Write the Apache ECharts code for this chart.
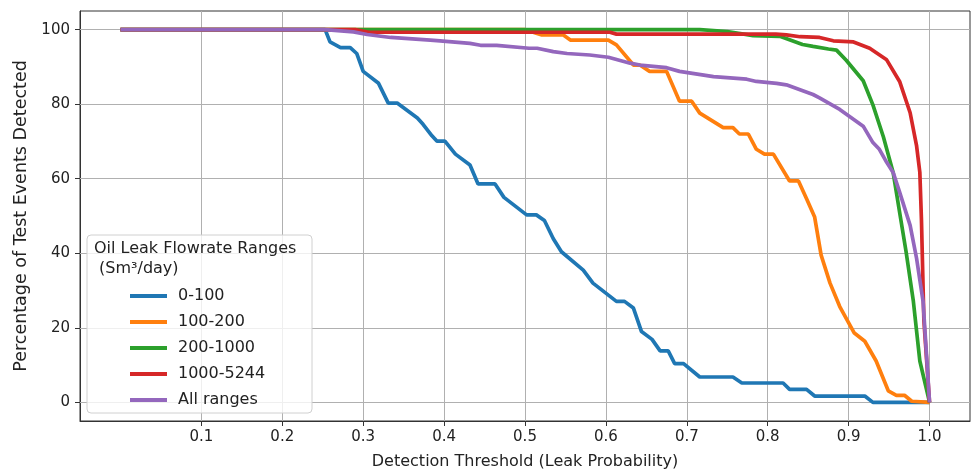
<!DOCTYPE html>
<html>
<head>
<meta charset="utf-8">
<script src="https://cdn.jsdelivr.net/npm/echarts@6/dist/echarts.min.js"></script>
<style>
html,body{margin:0;padding:0;background:#fff;}
#chart{width:972px;height:475px;}
</style>
</head>
<body>
<div id="chart"></div>
<script>
const xTicks = [0.1, 0.2, 0.3, 0.4, 0.5, 0.6, 0.7, 0.8, 0.9, 1.0];
const yTicks = [0, 20, 40, 60, 80, 100];
const seriesNames = ['0-100', '100-200', '200-1000', '1000-5244', 'All ranges'];
const seriesColors = ['#1f77b4', '#ff7f0e', '#2ca02c', '#d62728', '#9467bd'];

const range0_100 = [[0,100],[0.253,100],[0.259,96.7],[0.272,95.2],[0.284,95.2],[0.292,93.6],[0.300,88.8],[0.319,85.6],[0.331,80.3],[0.342,80.3],[0.367,76.3],[0.374,74.6],[0.385,71.5],[0.391,70.1],[0.401,70.1],[0.414,66.6],[0.432,63.7],[0.442,58.6],[0.463,58.6],[0.474,55.0],[0.502,50.3],[0.514,50.3],[0.524,48.8],[0.535,43.9],[0.545,40.4],[0.572,35.5],[0.584,32.0],[0.613,27.1],[0.623,27.1],[0.634,25.3],[0.644,19.0],[0.657,16.9],[0.667,13.8],[0.677,13.8],[0.685,10.4],[0.696,10.4],[0.716,6.8],[0.757,6.8],[0.768,5.2],[0.819,5.2],[0.827,3.5],[0.848,3.5],[0.858,1.7],[0.920,1.7],[0.930,0],[1.0,0]];
const range100_200 = [[0,100],[0.50,100],[0.52,98.6],[0.547,98.6],[0.556,97.2],[0.603,97.2],[0.613,95.9],[0.634,90.5],[0.642,90.5],[0.654,88.8],[0.675,88.8],[0.691,80.8],[0.706,80.8],[0.716,77.6],[0.745,73.7],[0.757,73.7],[0.765,72.0],[0.776,72.0],[0.786,67.9],[0.796,66.6],[0.807,66.6],[0.827,59.4],[0.838,59.4],[0.848,54.6],[0.858,49.7],[0.866,39.5],[0.877,32.0],[0.889,25.7],[0.907,18.6],[0.920,16.4],[0.934,11.1],[0.949,3.1],[0.959,1.9],[0.969,1.9],[0.978,0.3],[1.0,0]];
const range200_1000 = [[0,100],[0.716,100],[0.75,99.5],[0.782,98.4],[0.815,98.2],[0.843,96.0],[0.856,95.5],[0.875,94.8],[0.885,94.5],[0.897,91.8],[0.918,86.3],[0.930,79.8],[0.943,71.2],[0.955,61.7],[0.963,51.0],[0.971,40.4],[0.980,27.1],[0.988,11.1],[1.0,0]];
const range1000_5244 = [[0,100],[0.29,100],[0.307,99.3],[0.605,99.3],[0.613,98.8],[0.81,98.8],[0.823,98.6],[0.84,98.1],[0.864,97.9],[0.881,97.0],[0.906,96.7],[0.926,95.0],[0.947,91.9],[0.963,86.1],[0.976,77.7],[0.984,68.8],[0.988,61.7],[0.990,49.0],[0.993,22.0],[1.0,0]];
const rangeAll = [[0,100],[0.253,100],[0.288,99.4],[0.305,98.7],[0.334,97.9],[0.383,97.2],[0.395,97.0],[0.432,96.3],[0.445,95.8],[0.465,95.8],[0.505,95.0],[0.515,95.0],[0.535,94.1],[0.552,93.6],[0.580,93.2],[0.603,92.6],[0.630,91.0],[0.642,90.5],[0.675,89.8],[0.691,88.8],[0.733,87.4],[0.774,86.7],[0.786,86.1],[0.811,85.6],[0.823,85.2],[0.856,82.6],[0.864,81.7],[0.889,78.6],[0.918,74.1],[0.930,69.7],[0.938,67.9],[0.947,64.4],[0.955,61.7],[0.963,56.4],[0.976,47.5],[0.984,38.6],[0.992,27.1],[1.0,0]];
const allData = [range0_100, range100_200, range200_1000, range1000_5244, rangeAll];

const FONT = 'DejaVu Sans';
const LINE_ICON = 'path://M0,0 L37,0 L37,4 L0,4 Z';
const chart = echarts.init(document.getElementById('chart'), null, {renderer: 'canvas'});

const gridSeries = {
  name: '__grid', type: 'line', data: [], silent: true, z: 1,
  markLine: {
    silent: true, symbol: ['none', 'none'], animation: false, z: 1,
    label: {show: false},
    lineStyle: {color: '#b0b0b0', width: 1, type: 'solid'},
    emphasis: {disabled: true},
    data: xTicks.map(v => ({xAxis: v})).concat(yTicks.map(v => ({yAxis: v})))
  }
};

chart.setOption({
  animation: false,
  backgroundColor: '#fff',
  textStyle: {fontFamily: FONT},
  grid: {left: 80, right: 2, top: 11, bottom: 51, show: true, borderColor: '#333', borderWidth: 1, backgroundColor: 'transparent'},
  xAxis: {
    type: 'value', min: -0.05, max: 1.05,
    name: 'Detection Threshold (Leak Probability)', nameLocation: 'middle', nameGap: 33,
    nameTextStyle: {fontSize: 16, color: '#222', fontFamily: FONT},
    axisLine: {show: true, onZero: false, lineStyle: {color: '#333', width: 1}},
    axisTick: {show: true, length: 5, lineStyle: {color: '#333'}, customValues: xTicks},
    axisLabel: {customValues: xTicks, fontSize: 15, color: '#222', margin: 9, fontFamily: FONT, formatter: v => v.toFixed(1)},
    splitLine: {show: false}
  },
  yAxis: {
    type: 'value', min: -5, max: 105,
    name: 'Percentage of Test Events Detected', nameLocation: 'middle', nameGap: 47,
    nameTextStyle: {fontSize: 17.5, color: '#222', fontFamily: FONT},
    axisLine: {show: true, onZero: false, lineStyle: {color: '#333', width: 1}},
    axisTick: {show: true, length: 5, lineStyle: {color: '#333'}, customValues: yTicks},
    axisLabel: {customValues: yTicks, fontSize: 15, color: '#222', margin: 10, fontFamily: FONT},
    splitLine: {show: false}
  },
  legend: {
    orient: 'vertical', left: 125, top: 283, z: 6,
    itemWidth: 37, itemHeight: 18, itemGap: 10,
    textStyle: {fontSize: 16, color: '#222', fontFamily: FONT, padding: [0, 0, 0, 6]},
    data: seriesNames.map(n => ({name: n, icon: LINE_ICON}))
  },
  graphic: [
    {type: 'rect', z: 5, shape: {x: 87, y: 235, width: 225, height: 178, r: 4},
     style: {fill: 'rgba(255,255,255,0.8)', stroke: '#d0d0d0', lineWidth: 1}},
    {type: 'text', z: 7, left: 94, top: 241,
     style: {text: 'Oil Leak Flowrate Ranges', font: '16px "DejaVu Sans"', fill: '#222'}},
    {type: 'text', z: 7, left: 94, top: 261,
     style: {text: ' (Sm³/day)', font: '16px "DejaVu Sans"', fill: '#222'}}
  ],
  series: [gridSeries].concat(allData.map((d, i) => ({
    name: seriesNames[i], type: 'line', data: d, symbol: 'none', showSymbol: false,
    color: seriesColors[i],
    lineStyle: {color: seriesColors[i], width: 3.7},
    z: 2 + i * 0.01
  })))
});
</script>
</body>
</html>
